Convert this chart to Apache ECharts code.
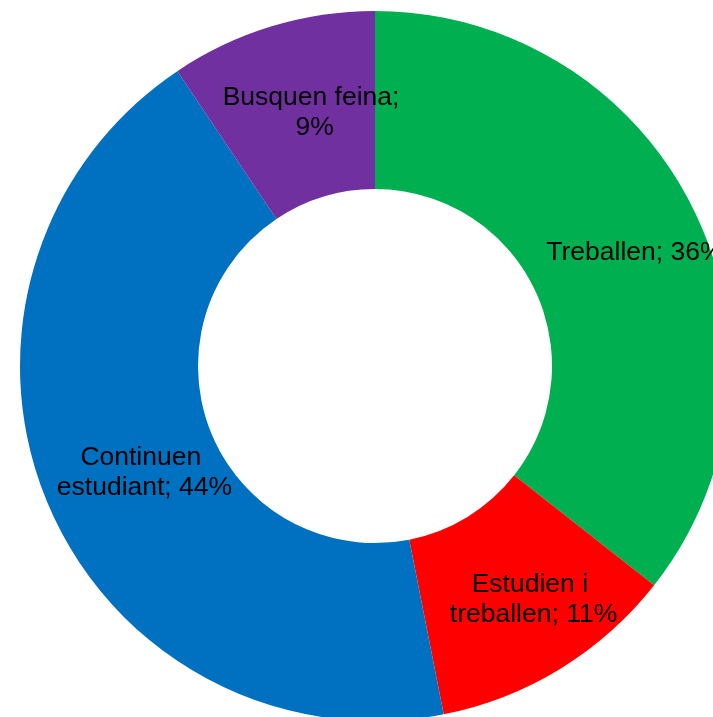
<!DOCTYPE html>
<html>
<head>
<meta charset="utf-8">
<script src="https://cdn.jsdelivr.net/npm/echarts@6/dist/echarts.min.js"></script>
<style>
html,body{margin:0;padding:0;background:#fff;}
#chart{width:713px;height:717px;}
</style>
</head>
<body>
<div id="chart"></div>
<script>
var categories = ['Treballen', 'Estudien i treballen', 'Continuen estudiant', 'Busquen feina'];
var values = [35.6, 11.3, 43.7, 9.4];
var colors = ['#00B050', '#FF0000', '#0070C0', '#7030A0'];

var chart = echarts.init(document.getElementById('chart'), null, {renderer: 'canvas'});
var data = categories.map(function (c, i) {
  return {name: c, value: values[i], itemStyle: {color: colors[i]}};
});
chart.setOption({
  animation: false,
  backgroundColor: '#fff',
  series: [{
    type: 'pie',
    center: [375, 366],
    radius: [177, 355],
    startAngle: 90,
    clockwise: true,
    avoidLabelOverlap: false,
    itemStyle: {borderWidth: 0},
    label: {
      show: true,
      position: 'inside',
      offset: [18, 4],
      color: '#000',
      fontFamily: 'Liberation Sans, Arial, sans-serif',
      fontSize: 26.5,
      lineHeight: 30,
      width: 192,
      overflow: 'break',
      align: 'center',
      formatter: function (p) {
        return p.name + '; ' + Math.round(p.percent) + '%';
      }
    },
    labelLine: {show: false},
    emphasis: {disabled: true},
    data: data
  }]
});
</script>
</body>
</html>
